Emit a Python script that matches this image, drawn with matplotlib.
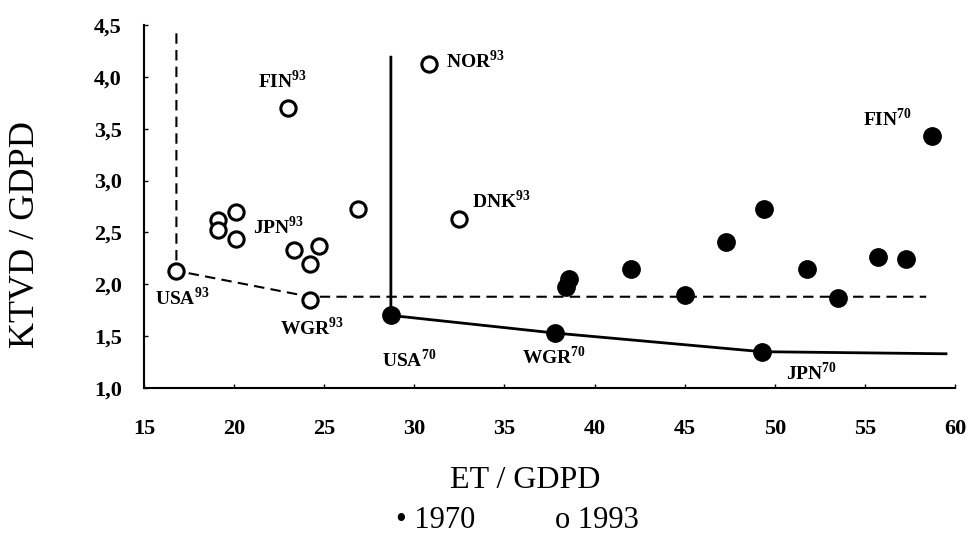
import matplotlib
matplotlib.use("Agg")
import matplotlib.pyplot as plt
from matplotlib.ticker import FuncFormatter

plt.rcParams['font.family'] = ['Liberation Serif', 'DejaVu Serif']
plt.rcParams['mathtext.fontset'] = 'custom'
plt.rcParams['mathtext.rm'] = 'Liberation Serif:bold'
plt.rcParams['mathtext.bf'] = 'Liberation Serif:bold'

# 1970 (filled)
x70 = [28.7, 37.8, 49.3, 58.7, 49.4, 47.3, 42.0, 38.6, 38.4, 45.0, 51.8, 53.5, 55.7, 57.3]
y70 = [1.70, 1.53, 1.35, 3.43, 2.73, 2.41, 2.15, 2.05, 1.97, 1.90, 2.15, 1.87, 2.26, 2.24]
# 1993 (open)
x93 = [16.8, 23.0, 30.8, 32.5, 26.9, 20.1, 19.1, 19.1, 20.1, 23.3, 24.7, 24.2, 24.2]
y93 = [2.13, 3.70, 4.12, 2.63, 2.73, 2.70, 2.62, 2.52, 2.44, 2.33, 2.37, 2.20, 1.85]

# frontier lines
front70_x = [28.7, 28.7, 37.8, 49.3, 59.5]
front70_y = [4.19, 1.70, 1.53, 1.35, 1.33]
front93_x = [16.8, 16.8, 24.2, 58.4]
front93_y = [4.42, 2.13, 1.88, 1.88]

# (name, superscript, anchor x, anchor y, offset px x, offset px y, ha)
labels = [
    ("FIN", "93", 23.0, 3.70, -6, 27, 'center'),
    ("NOR", "93", 30.8, 4.12, 17, 4, 'left'),
    ("DNK", "93", 32.5, 2.63, 13, 18, 'left'),
    ("JPN", "93", 20.1, 2.70, 17, -15, 'left'),
    ("USA", "93", 16.8, 2.13, 6, -27, 'center'),
    ("WGR", "93", 24.2, 1.85, 2, -28, 'center'),
    ("USA", "70", 28.7, 1.70, 18, -44, 'center'),
    ("WGR", "70", 37.8, 1.53, -1, -24, 'center'),
    ("JPN", "70", 49.3, 1.35, 49, -21, 'center'),
    ("FIN", "70", 58.7, 3.43, -44, 17, 'center'),
]

fig = plt.figure(figsize=(9.76, 5.38), dpi=100)
ax = fig.add_axes([0.1475, 0.2788, 0.831, 0.6747])

ax.plot(front93_x, front93_y, color='black', lw=1.5, ls=(0, (5, 3)), zorder=1)
ax.plot(front70_x, front70_y, color='black', lw=2.0, ls='-', zorder=1)

ax.plot(x93, y93, ls='none', marker='o', ms=11, mfc='white', mec='black', mew=2.2, zorder=3)
ax.plot(x70, y70, ls='none', marker='o', ms=12.5, mfc='black', mec='black', zorder=3)

for name, sup, x, y, dx, dy, ha in labels:
    ax.annotate(name + r"$^{\mathbf{" + sup + "}}$", (x, y), xytext=(dx, dy),
                textcoords='offset pixels', ha=ha, va='center', fontsize=14,
                fontweight='bold')

ax.set_xlim(15, 60)
ax.set_ylim(1.0, 4.5)
ax.set_xticks(range(15, 61, 5))
ax.set_yticks([1.0, 1.5, 2.0, 2.5, 3.0, 3.5, 4.0, 4.5])
ax.yaxis.set_major_formatter(FuncFormatter(lambda v, p: f"{v:.1f}".replace('.', ',')))
for s in ['top', 'right']:
    ax.spines[s].set_visible(False)
for s in ['left', 'bottom']:
    ax.spines[s].set_linewidth(1.5)
ax.tick_params(direction='in', length=3, width=1, labelsize=16)
ax.tick_params(axis='x', pad=22)
ax.tick_params(axis='y', pad=16)
for t in ax.get_xticklabels() + ax.get_yticklabels():
    t.set_fontweight('bold')

fig.text(0.5385, 1 - 481 / 538, "ET / GDPD", fontsize=23, ha='center', va='center')
fig.text(26 / 976, 1 - 234 / 538, "KTVD / GDPD", fontsize=26, ha='center', va='center',
         rotation=90)

fig.text(436 / 976, 1 - 521 / 538, "\u2022 1970", fontsize=22, ha='center', va='center')
fig.text(597 / 976, 1 - 521 / 538, "o 1993", fontsize=22, ha='center', va='center')

fig.savefig("out.png", dpi=100)
